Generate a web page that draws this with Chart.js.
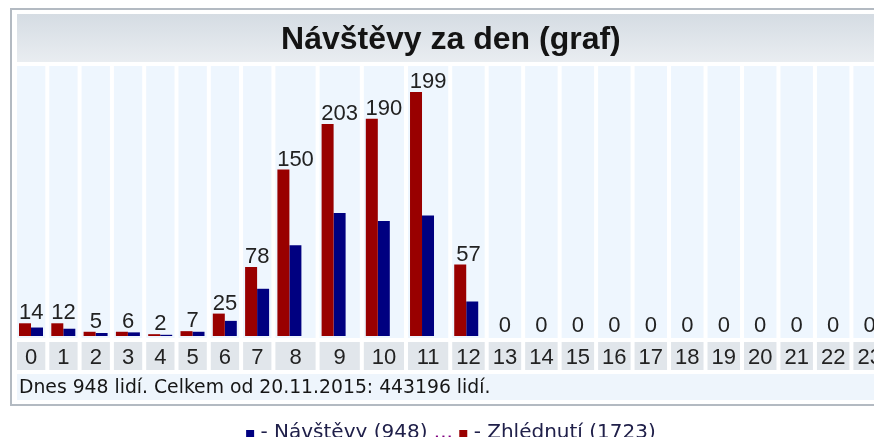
<!DOCTYPE html>
<html>
<head>
<meta charset="utf-8">
<title>Návštěvy za den (graf)</title>
<script src="https://cdn.jsdelivr.net/npm/chart.js@4"></script>
<style>
    html, body { margin: 0; padding: 0; background: #fff; }
    canvas { display: block; }
</style>
</head>
<body>
<canvas id="hour-chart" width="874" height="437"></canvas>
<script>
document.addEventListener('DOMContentLoaded', init);

// hodiny dne, navstevy a zhlednuti za kazdou hodinu
const hours = ['0', '1', '2', '3', '4', '5', '6', '7', '8', '9', '10', '11',
               '12', '13', '14', '15', '16', '17', '18', '19', '20', '21', '22', '23'];
const visits = [14, 12, 5, 6, 2, 7, 25, 78, 150, 203, 190, 199, 57, 0, 0, 0, 0, 0, 0, 0, 0, 0, 0, 0];
const views = [21, 21, 7, 7, 3, 8, 37, 114, 275, 350, 359, 403, 118, 0, 0, 0, 0, 0, 0, 0, 0, 0, 0, 0];
const visitsSince = 443196;
const countingSince = '20.11.2015';

const labelFont = '22px "Liberation Sans", Arial, sans-serif';
const textFont = '"DejaVu Sans", Verdana, sans-serif';
const BAR = 12;

let canvas, ctx, columns;

function init()
{
    canvas = document.getElementById('hour-chart');
    ctx = canvas.getContext('2d');
    columns = layoutColumns();
    createChart();
}

function sum(arr)
{
    return arr.reduce((a, b) => a + b, 0);
}

// sirka sloupce podle obsahu, jako u tabulky
function layoutColumns()
{
    ctx.save();
    ctx.font = labelFont;
    let left = 0;
    const cols = hours.map((hour, i) => {
        const width = Math.max(2 * BAR + 4.3,
                               ctx.measureText(String(visits[i])).width + 3.5,
                               ctx.measureText(hour).width + 8);
        const col = { left: left, width: width };
        left += width + 4;
        return col;
    });
    ctx.restore();
    return cols;
}

const tableLook = {
    id: 'tableLook',
    beforeDraw(chart)
    {
        const c = chart.ctx;
        const x = chart.scales.x;
        const last = columns[columns.length - 1];
        const right = x.getPixelForValue(last.left + last.width) + 5;

        c.save();
        c.fillStyle = '#ffffff';
        c.fillRect(0, 0, chart.width, chart.height);

        c.strokeStyle = '#b3bac2';
        c.lineWidth = 2;
        c.strokeRect(11, 9, right - 11, 396);

        const grad = c.createLinearGradient(0, 14, 0, 62);
        grad.addColorStop(0, '#d5dce3');
        grad.addColorStop(1, '#e9edf1');
        c.fillStyle = grad;
        c.fillRect(17, 14, right - 22, 48);

        columns.forEach(col => {
            const l = x.getPixelForValue(col.left);
            const r = x.getPixelForValue(col.left + col.width);
            c.fillStyle = '#eef6fe';
            c.fillRect(l, 66, r - l, 272);
            c.fillStyle = '#e1e6eb';
            c.fillRect(l, 342, r - l, 28);
        });

        c.fillStyle = '#eef5fc';
        c.fillRect(17, 374, right - 22, 26);
        c.restore();
    },
    afterDatasetsDraw(chart)
    {
        const c = chart.ctx;
        const x = chart.scales.x;
        const y = chart.scales.y;
        const last = columns[columns.length - 1];
        const right = x.getPixelForValue(last.left + last.width) + 5;
        const mid = (11 + right) / 2;

        c.save();
        c.fillStyle = '#141414';
        c.textAlign = 'center';
        c.textBaseline = 'alphabetic';
        c.font = 'bold 32px "Liberation Sans", Arial, sans-serif';
        c.fillText('Návštěvy za den (graf)', mid, 49);

        c.font = labelFont;
        c.fillStyle = '#222222';
        columns.forEach((col, i) => {
            const l = x.getPixelForValue(col.left);
            const r = x.getPixelForValue(col.left + col.width);
            const top = y.getPixelForValue(Math.max(views[i], visits[i]));
            c.fillText(String(visits[i]), (l + r) / 2, top - 4);
            c.fillText(hours[i], (l + r) / 2, 364);
        });

        c.textAlign = 'left';
        c.font = '18.8px ' + textFont;
        c.fillStyle = '#161616';
        c.fillText('Dnes ' + sum(visits) + ' lidí. Celkem od ' + countingSince + ': ' + visitsSince + ' lidí.', 19, 393);

        // legenda pod tabulkou
        c.font = '20px ' + textFont;
        const part1 = ' - Návštěvy (' + sum(visits) + ') ';
        const dots = '...';
        const part2 = ' - Zhlédnutí (' + sum(views) + ')';
        const sp = c.measureText(' ').width;
        const total = 8 + c.measureText(part1).width + c.measureText(dots).width + sp + 8 + c.measureText(part2).width;
        let lx = mid - total / 2;
        const base = 438;
        c.fillStyle = '#000080';
        c.fillRect(lx, base - 8, 8, 8);
        lx += 8;
        c.fillStyle = '#20204a';
        c.fillText(part1, lx, base);
        lx += c.measureText(part1).width;
        c.fillStyle = '#800080';
        c.fillText(dots, lx, base);
        lx += c.measureText(dots).width + sp;
        c.fillStyle = '#990000';
        c.fillRect(lx, base - 8, 8, 8);
        lx += 8;
        c.fillStyle = '#20204a';
        c.fillText(part2, lx, base);
        c.restore();
    }
};

function createChart()
{
    new Chart(ctx,
    {
        type: 'bar',
        data: {
            datasets: [
                {
                    label: 'Zhlédnutí',
                    data: views.map((v, i) => ({ x: columns[i].left + 2 + BAR, y: v })),
                    backgroundColor: '#990000',
                    barThickness: BAR,
                    inflateAmount: 0
                },
                {
                    label: 'Návštěvy',
                    data: visits.map((v, i) => ({ x: columns[i].left + 2 + BAR, y: v })),
                    backgroundColor: '#000080',
                    barThickness: BAR,
                    inflateAmount: 0
                }
            ]
        },
        options: {
            responsive: false,
            animation: false,
            layout: {
                padding: { left: 17, right: 0, top: 66, bottom: 101 }
            },
            scales: {
                x: {
                    type: 'linear',
                    min: 0,
                    max: canvas.width - 17,
                    offset: false,
                    display: false
                },
                y: {
                    min: 0,
                    max: 446,
                    display: false
                }
            },
            plugins: {
                legend: { display: false },
                title: { display: false },
                tooltip: { enabled: false }
            }
        },
        plugins: [tableLook]
    });
}
</script>
</body>
</html>
